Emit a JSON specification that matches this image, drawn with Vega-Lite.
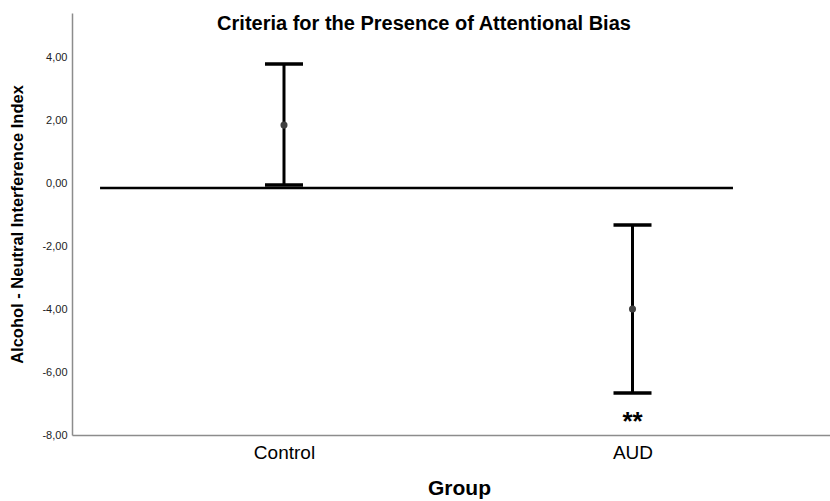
{
  "$schema": "https://vega.github.io/schema/vega-lite/v6.json",
  "autosize": "none",
  "width": 758,
  "height": 422,
  "padding": {"left": 72, "top": 13, "right": 0, "bottom": 66},
  "background": "white",
  "config": {"view": {"stroke": null}, "font": "Liberation Sans"},
  "title": {
    "text": "Criteria for the Presence of Attentional Bias",
    "fontSize": 20,
    "fontWeight": "bold",
    "font": "Liberation Sans",
    "color": "black",
    "anchor": "middle",
    "frame": "group",
    "dx": -27,
    "offset": -21
  },
  "datasets": {
    "groups": [
      {"group": "Control", "mean": 1.84, "lower": -0.06, "upper": 3.78, "sig": ""},
      {"group": "AUD", "mean": -4.0, "lower": -6.67, "upper": -1.33, "sig": "**"}
    ],
    "ref": [{"value": -0.16, "start": 0.037, "end": 0.872}]
  },
  "layer": [
    {
      "data": {"name": "ref"},
      "mark": {"type": "rule", "color": "black", "strokeWidth": 2.5},
      "encoding": {
        "x": {"field": "start", "type": "quantitative", "scale": {"domain": [0, 1]}, "axis": null},
        "x2": {"field": "end"},
        "y": {
          "field": "value", "type": "quantitative",
          "scale": {"domain": [-8, 5.4], "nice": false, "zero": false},
          "axis": {
            "title": "Alcohol - Neutral Interference Index", "titleFontSize": 16.5, "titleFontWeight": "bold",
            "titleColor": "black", "titleX": -55, "titleY": 211, "titleAngle": -90, "titleAlign": "center", "titleBaseline": "middle",
            "values": [-8, -6, -4, -2, 0, 2, 4],
            "labelExpr": "replace(replace(format(datum.value, '.2f'), '.', ','), '\u2212', '-')",
            "labelFontSize": 11, "labelColor": "#222222", "labelPadding": 5,
            "ticks": false, "tickSize": 0, "grid": false, "domainColor": "#8c8c8c", "domainWidth": 1.5
          }
        }
      }
    },
    {
      "data": {"name": "groups"},
      "encoding": {
        "x": {
          "field": "group", "type": "nominal", "sort": ["Control", "AUD"],
          "scale": {"type": "point", "padding": 0.5875, "align": 0.5177},
          "axis": {
            "title": "Group", "titleFontSize": 21, "titleFontWeight": "bold", "titleColor": "black",
            "titleX": 387, "titleY": 59, "titleAlign": "center", "titleBaseline": "alphabetic",
            "labelFontSize": 19, "labelColor": "black", "labelPadding": 23, "labelBaseline": "alphabetic",
            "ticks": false, "tickSize": 0, "domainColor": "#8c8c8c", "domainWidth": 1.5, "labelAngle": 0, "grid": false
          }
        }
      },
      "layer": [
        {
          "mark": {"type": "rule", "color": "black", "strokeWidth": 3},
          "encoding": {
            "y": {"field": "lower", "type": "quantitative", "title": "Alcohol - Neutral Interference Index"},
            "y2": {"field": "upper"}
          }
        },
        {
          "mark": {"type": "tick", "color": "black", "thickness": 3.5, "size": 38, "orient": "horizontal", "opacity": 1},
          "encoding": {"y": {"field": "lower", "type": "quantitative", "title": "Alcohol - Neutral Interference Index"}}
        },
        {
          "mark": {"type": "tick", "color": "black", "thickness": 3.5, "size": 38, "orient": "horizontal", "opacity": 1},
          "encoding": {"y": {"field": "upper", "type": "quantitative", "title": "Alcohol - Neutral Interference Index"}}
        },
        {
          "mark": {"type": "point", "filled": true, "color": "#404040", "size": 50, "opacity": 1},
          "encoding": {"y": {"field": "mean", "type": "quantitative", "title": "Alcohol - Neutral Interference Index"}}
        },
        {
          "transform": [{"filter": "datum.sig != ''"}],
          "mark": {"type": "text", "fontSize": 26, "fontWeight": "bold", "color": "black", "baseline": "alphabetic"},
          "encoding": {"y": {"datum": -7.84, "type": "quantitative", "title": "Alcohol - Neutral Interference Index"}, "text": {"field": "sig"}}
        }
      ]
    }
  ],
  "resolve": {"scale": {"x": "independent"}}
}
